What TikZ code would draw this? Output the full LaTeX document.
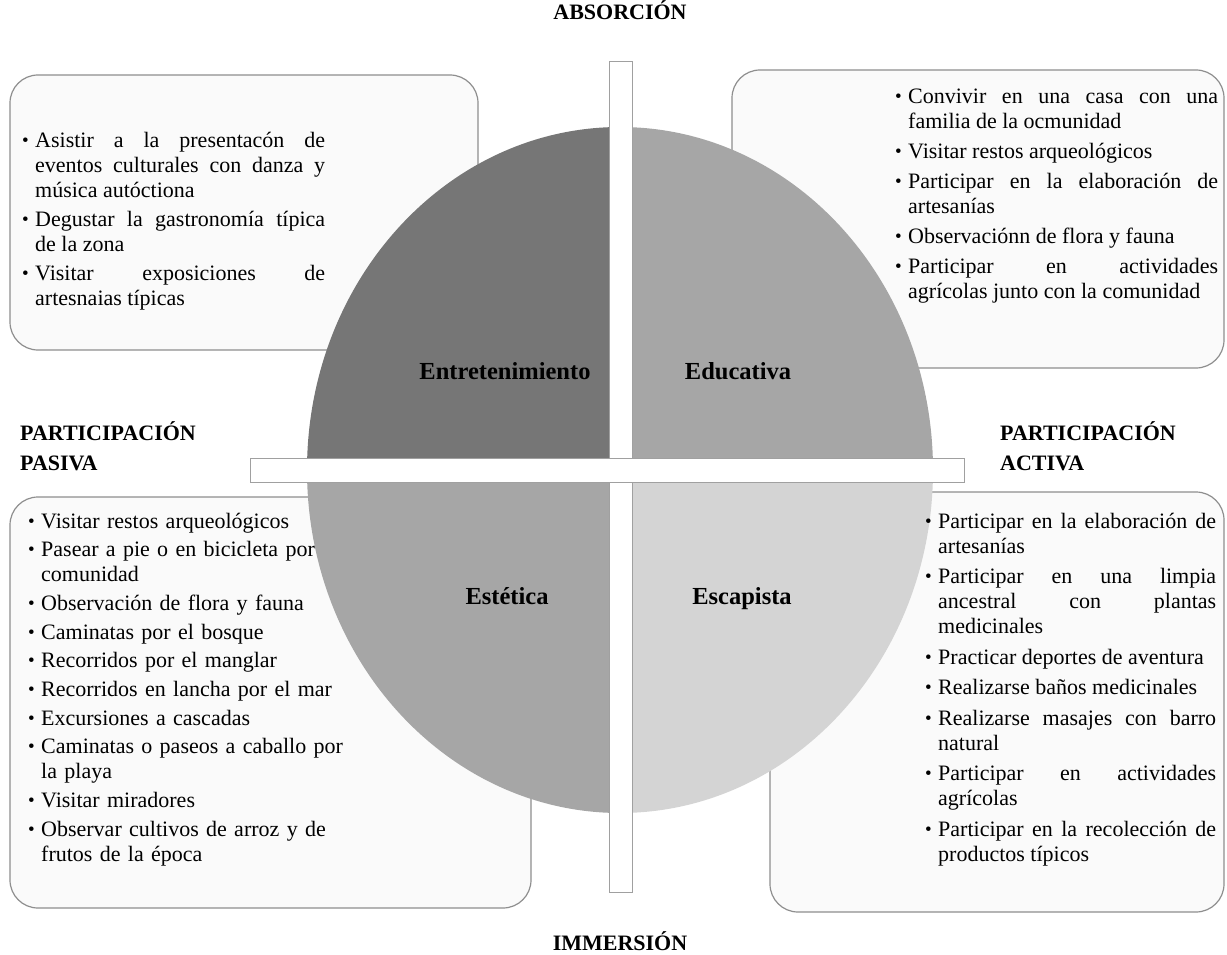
\documentclass[tikz,border=0pt]{standalone}
\usepackage{fontspec}
\setmainfont{Liberation Serif}
\usetikzlibrary{positioning}
\definecolor{quadA}{HTML}{767676}
\definecolor{quadB}{HTML}{A6A6A6}
\definecolor{quadC}{HTML}{A6A6A6}
\definecolor{quadD}{HTML}{D4D4D4}
\definecolor{boxfill}{HTML}{FAFAFA}
\definecolor{boxline}{HTML}{8E8E8E}
\definecolor{barline}{HTML}{A0A0A0}
\tikzset{
    box/.style = {draw=boxline, fill=boxfill, line width=1.2pt, rounded corners=28pt},
    bar/.style = {draw=barline, fill=white, line width=1pt},
    axis/.style = {inner sep=0pt, align=left, font=\fontsize{22}{30}\selectfont\bfseries},
    quad/.style = {inner sep=0pt, anchor=base, font=\fontsize{24.5}{28}\selectfont\bfseries},
    list/.style = {inner sep=0pt, anchor=base west, text width=#1,
                   font=\fontsize{22}{25}\selectfont},
}
% one bullet point of a list
\newcommand{\itm}[1]{\hangindent=13pt\hangafter=1\noindent%
  \makebox[13pt][l]{\raisebox{1pt}{\fontsize{19}{19}\selectfont\textbullet}}#1\par}
\newcommand{\listset}[1]{\setlength{\parskip}{#1}\hyphenpenalty=10000\tolerance=10000}

\begin{document}
\begin{tikzpicture}[x=1pt,y=-1pt]
\useasboundingbox (0,0) rectangle (1227,955);

    % boxes behind the circle
    \draw[box] (10,75) rectangle (478,350);
    \draw[box] (732,70) rectangle (1224,368);
    \draw[box] (10,497) rectangle (531,908);
    \draw[box] (770,492) rectangle (1224,912);

    % the four quarters
    \begin{scope}
      \clip (0,0) rectangle (620,470);
      \fill[quadA] (620,470) ellipse [x radius=313, y radius=343];
    \end{scope}
    \begin{scope}
      \clip (620,0) rectangle (1227,470);
      \fill[quadB] (620,470) ellipse [x radius=313, y radius=343];
    \end{scope}
    \begin{scope}
      \clip (0,470) rectangle (620,955);
      \fill[quadC] (620,470) ellipse [x radius=313, y radius=343];
    \end{scope}
    \begin{scope}
      \clip (620,470) rectangle (1227,955);
      \fill[quadD] (620,470) ellipse [x radius=313, y radius=343];
    \end{scope}

    % the two bars
    \draw[bar] (609,62) rectangle (632,892);
    \draw[bar] (250,458) rectangle (964,482);

    % axis labels
    \node[axis, anchor=base] (absorcion) at (620,20) {ABSORCIÓN};
    \node[axis, anchor=base] (immersion) at (620,950) {IMMERSIÓN};
    \node[axis, anchor=base west] (pasiva) at (20,470) {PARTICIPACIÓN\\PASIVA};
    \node[axis, anchor=base west] (activa) at (1000,470) {PARTICIPACIÓN\\ACTIVA};

    % quarter labels
    \node[quad] (entret) at (505,379) {Entretenimiento};
    \node[quad] (educ) at (738,379) {Educativa};
    \node[quad] (estet) at (507,604) {Estética};
    \node[quad] (escap) at (742,604) {Escapista};

    % lists
    \node[list=303pt, align=justify] (listTL) at (22,148) {\listset{4pt}%
      \itm{Asistir a la presentacón de\linebreak eventos culturales con danza y\linebreak música autóctiona}
      \itm{Degustar la gastronomía típica\linebreak de la zona}
      \itm{Visitar exposiciones de\linebreak artesnaias típicas}};
    \node[list=323pt, align=justify] (listTR) at (895,104) {\listset{5pt}%
      \itm{Convivir en una casa con una\linebreak familia de la ocmunidad}
      \itm{Visitar restos arqueológicos}
      \itm{Participar en la elaboración de\linebreak artesanías}
      \itm{Observaciónn de flora y fauna}
      \itm{Participar en actividades\linebreak agrícolas junto con la comunidad}};
    \node[list=330pt, align=left] (listBL) at (28,528) {\listset{3.7pt}%
      \itm{Visitar restos arqueológicos}
      \itm{Pasear a pie o en bicicleta por\linebreak comunidad}
      \itm{Observación de flora y fauna}
      \itm{Caminatas por el bosque}
      \itm{Recorridos por el manglar}
      \itm{Recorridos en lancha por el mar}
      \itm{Excursiones a cascadas}
      \itm{Caminatas o paseos a caballo por\linebreak la playa}
      \itm{Visitar miradores}
      \itm{Observar cultivos de arroz y de\linebreak frutos de la época}};
    \node[list=291pt, align=justify] (listBR) at (925,528) {\listset{5.5pt}%
      \itm{Participar en la elaboración de\linebreak artesanías}
      \itm{Participar en una limpia\linebreak ancestral con plantas\linebreak medicinales}
      \itm{Practicar deportes de aventura}
      \itm{Realizarse baños medicinales}
      \itm{Realizarse masajes con barro\linebreak natural}
      \itm{Participar en actividades\linebreak agrícolas}
      \itm{Participar en la recolección de\linebreak productos típicos}};

\end{tikzpicture}
\end{document}
